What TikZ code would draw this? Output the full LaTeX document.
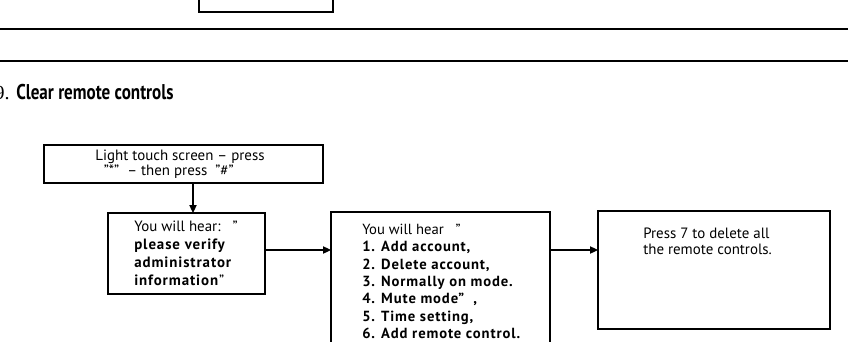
\documentclass[tikz,border=0pt]{standalone}
\usepackage{fontspec}
\setmainfont{PT Sans}[BoldFeatures={LetterSpace=6}]
\newfontfamily\numfont{Liberation Serif}
\newfontfamily\titlefont[FakeStretch=0.8]{PT Sans}
\usetikzlibrary{arrows.meta}

\begin{document}
\begin{tikzpicture}[x=0.75pt,y=-0.75pt,
  box/.style={draw,line width=1.1pt,inner sep=0,outer sep=0},
  txt/.style={inner sep=0,font=\fontsize{11.2}{12}\selectfont,align=left},
  arr/.style={line width=0.8pt,-{Triangle[length=6pt,width=5.5pt]}}]
\useasboundingbox (0,0) rectangle (848,342);
\clip (0,0) rectangle (848,342);

\node[box,minimum width=134*0.75pt,minimum height=40*0.75pt] (prev) at (266,-8) {};
\draw[line width=2pt] (-5,29) -- (853,29);
\draw[line width=2pt] (-5,61) -- (853,61);

\node[inner sep=0,anchor=base east,font=\numfont\fontsize{15}{15}\selectfont] (num) at (10,100) {9.};
\node[inner sep=0,anchor=base west,font=\titlefont\bfseries\fontsize{16}{16}\selectfont] (title) at (16,100) {Clear remote controls};

\node[box,minimum width=279*0.75pt,minimum height=38*0.75pt] (touch) at (183.5,164) {};
\node[txt,align=center,font=\fontsize{11.2}{11.25}\selectfont] (touchtxt) at (180,164) {Light touch screen -- press\\ \hspace*{-1.5em}"*"\ \ -- then press\ \ "\#"};

\node[box,minimum width=157*0.75pt,minimum height=81*0.75pt] (verify) at (186.5,253.5) {};
\node[txt,anchor=north west,font=\fontsize{11.2}{13.3}\selectfont] (verifytxt) at (134,221) {You will hear:\ \ \ "\\ \textbf{please verify}\\ \textbf{administrator}\\ \textbf{information}"};

\node[box,minimum width=219*0.75pt,minimum height=160*0.75pt] (menu) at (440.5,292) {};
\node[txt,anchor=north west,font=\fontsize{11}{13}\selectfont] (menutxt) at (362,224) {You will hear\ \ \ "\\ \textbf{1. Add account,}\\ \textbf{2. Delete account,}\\ \textbf{3. Normally on mode.}\\ \textbf{4. Mute mode"\ \ ,}\\ \textbf{5. Time setting,}\\ \textbf{6. Add remote control.}};

\node[box,minimum width=232*0.75pt,minimum height=118*0.75pt] (press) at (714,270) {};
\node[txt,anchor=north west] (presstxt) at (643,228) {Press 7 to delete all\\ the remote controls.};

\draw[arr] (touch.south -| 193,0) -- (verify.north -| 193,0);
\draw[arr] (verify.east |- 0,250) -- (menu.west |- 0,250);
\draw[arr] (menu.east |- 0,250) -- (press.west |- 0,250);
\end{tikzpicture}
\end{document}
